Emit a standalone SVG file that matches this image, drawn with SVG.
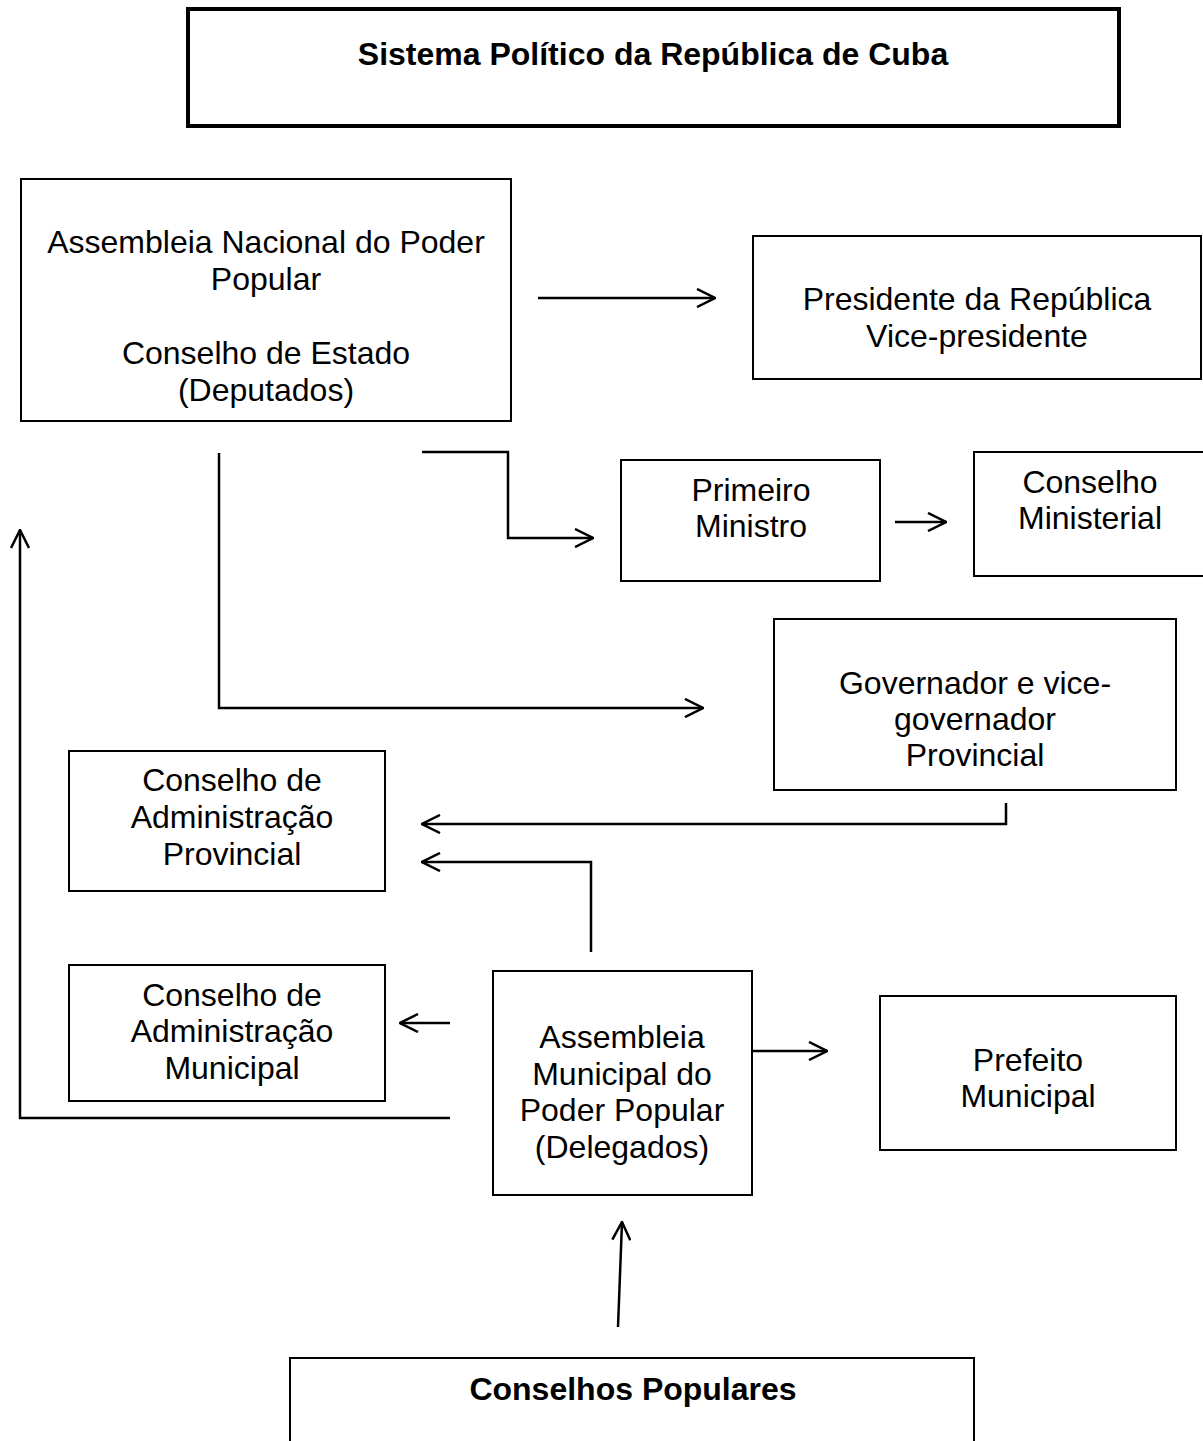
<svg xmlns="http://www.w3.org/2000/svg" width="1203" height="1441" viewBox="0 0 1203 1441">
<style>
.box{fill:#fff;stroke:#000;stroke-width:2}
.t{font-family:"Liberation Sans",Arial,sans-serif;font-size:32px;fill:#000;text-anchor:middle}
.b{font-weight:bold}
.c{fill:none;stroke:#000;stroke-width:2.5}
</style>
<defs>
<marker id="ah" viewBox="0 0 20 20" refX="19" refY="10" markerWidth="20" markerHeight="20" markerUnits="userSpaceOnUse" orient="auto">
<path d="M1,1 L19,10 L1,19" fill="none" stroke="#000" stroke-width="2.5"/>
</marker>
</defs>
<rect width="1203" height="1441" fill="#fff"/>
<g id="title">
<rect x="188" y="9" width="931" height="117" fill="#fff" stroke="#000" stroke-width="4"/>
<text class="t b" x="653" y="65">Sistema Político da República de Cuba</text>
</g>
<g id="assembleia-nacional">
<rect class="box" x="21" y="179" width="490" height="242"/>
<text class="t" x="266" y="253">Assembleia Nacional do Poder</text>
<text class="t" x="266" y="290">Popular</text>
<text class="t" x="266" y="364">Conselho de Estado</text>
<text class="t" x="266" y="401">(Deputados)</text>
</g>
<g id="presidente">
<rect class="box" x="753" y="236" width="448" height="143"/>
<text class="t" x="977" y="310">Presidente da República</text>
<text class="t" x="977" y="347">Vice-presidente</text>
</g>
<g id="primeiro-ministro">
<rect class="box" x="621" y="460" width="259" height="121"/>
<text class="t" x="751" y="501">Primeiro</text>
<text class="t" x="751" y="537">Ministro</text>
</g>
<g id="conselho-ministerial">
<rect class="box" x="974" y="452" width="235" height="124"/>
<text class="t" x="1090" y="493">Conselho</text>
<text class="t" x="1090" y="529">Ministerial</text>
</g>
<g id="governador">
<rect class="box" x="774" y="619" width="402" height="171"/>
<text class="t" x="975" y="694">Governador e vice-</text>
<text class="t" x="975" y="730">governador</text>
<text class="t" x="975" y="766">Provincial</text>
</g>
<g id="conselho-adm-provincial">
<rect class="box" x="69" y="751" width="316" height="140"/>
<text class="t" x="232" y="791">Conselho de</text>
<text class="t" x="232" y="828">Administração</text>
<text class="t" x="232" y="865">Provincial</text>
</g>
<g id="conselho-adm-municipal">
<rect class="box" x="69" y="965" width="316" height="136"/>
<text class="t" x="232" y="1006">Conselho de</text>
<text class="t" x="232" y="1042">Administração</text>
<text class="t" x="232" y="1079">Municipal</text>
</g>
<g id="assembleia-municipal">
<rect class="box" x="493" y="971" width="259" height="224"/>
<text class="t" x="622" y="1048">Assembleia</text>
<text class="t" x="622" y="1085">Municipal do</text>
<text class="t" x="622" y="1121">Poder Popular</text>
<text class="t" x="622" y="1158">(Delegados)</text>
</g>
<g id="prefeito">
<rect class="box" x="880" y="996" width="296" height="154"/>
<text class="t" x="1028" y="1071">Prefeito</text>
<text class="t" x="1028" y="1107">Municipal</text>
</g>
<g id="conselhos-populares">
<rect class="box" x="290" y="1358" width="684" height="100"/>
<text class="t b" x="633" y="1400">Conselhos Populares</text>
</g>
<g id="connectors">
<path class="c" d="M538,298 H715" marker-end="url(#ah)"/>
<path class="c" d="M422,452 H508 V538 H593" marker-end="url(#ah)"/>
<path class="c" d="M895,522 H946" marker-end="url(#ah)"/>
<path class="c" d="M219,453 V708 H703" marker-end="url(#ah)"/>
<path class="c" d="M1006,803 V824 H422" marker-end="url(#ah)"/>
<path class="c" d="M591,952 V862 H422" marker-end="url(#ah)"/>
<path class="c" d="M450,1023 H400" marker-end="url(#ah)"/>
<path class="c" d="M752,1051 H827" marker-end="url(#ah)"/>
<path class="c" d="M450,1118 H20 V530" marker-end="url(#ah)"/>
<path class="c" d="M618,1327 L622,1222" marker-end="url(#ah)"/>
</g>
</svg>
